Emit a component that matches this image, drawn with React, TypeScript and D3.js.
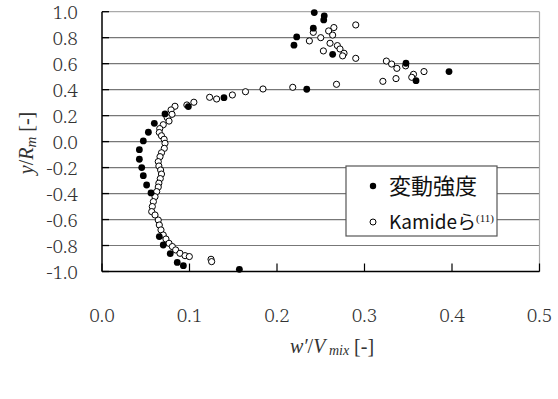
import React from "react";
import * as d3 from "d3";

// 変動強度 (filled)
const filledW = [0.2426, 0.254, 0.2534, 0.2415, 0.2225, 0.2194, 0.2636, 0.3474, 0.3966, 0.3589, 0.234, 0.1394, 0.0987, 0.072, 0.0598, 0.053, 0.0472, 0.0427, 0.0427, 0.0454, 0.0472, 0.051, 0.056, 0.0655, 0.070, 0.078, 0.086, 0.093, 0.157];
const filledY = [0.993, 0.968, 0.937, 0.873, 0.806, 0.742, 0.672, 0.603, 0.539, 0.469, 0.403, 0.338, 0.27, 0.213, 0.141, 0.072, 0.005, -0.062, -0.136, -0.2, -0.262, -0.334, -0.395, -0.731, -0.796, -0.862, -0.93, -0.955, -0.983];

// Kamide (open)
const openW = [0.290, 0.265, 0.259, 0.2415, 0.2636, 0.25, 0.237, 0.2606, 0.269, 0.272, 0.253, 0.2766, 0.275, 0.29, 0.325, 0.331, 0.337, 0.347, 0.368, 0.356, 0.354, 0.336, 0.321, 0.268, 0.218, 0.184, 0.164, 0.149, 0.131, 0.123,
  0.105, 0.097, 0.0834, 0.0789, 0.080, 0.0745, 0.0766, 0.070, 0.066, 0.0655, 0.068, 0.071, 0.072, 0.0712, 0.068, 0.0663, 0.0643, 0.065, 0.067, 0.068, 0.0666, 0.065, 0.0643, 0.0625, 0.0606, 0.0587, 0.0575, 0.0568, 0.0606, 0.0643, 0.0655, 0.0674, 0.070, 0.0731, 0.0766, 0.0804, 0.0842, 0.0891, 0.0949, 0.0998, 0.1246, 0.1253];
const openY = [0.898, 0.878, 0.852, 0.841, 0.82, 0.80, 0.775, 0.757, 0.739, 0.713, 0.698, 0.68, 0.66, 0.641, 0.62, 0.597, 0.564, 0.583, 0.539, 0.518, 0.495, 0.485, 0.464, 0.441, 0.418, 0.405, 0.384, 0.359, 0.328, 0.341,
  0.303, 0.282, 0.272, 0.244, 0.21, 0.185, 0.158, 0.13, 0.1, 0.07, 0.045, 0.018, -0.013, -0.052, -0.086, -0.116, -0.154, -0.188, -0.219, -0.25, -0.285, -0.32, -0.35, -0.385, -0.424, -0.462, -0.5, -0.539, -0.565, -0.604, -0.642, -0.68, -0.719, -0.75, -0.783, -0.808, -0.834, -0.86, -0.878, -0.885, -0.906, -0.924];

const xTicks = [0, 0.1, 0.2, 0.3, 0.4, 0.5];
const yTicks = [1.0, 0.8, 0.6, 0.4, 0.2, 0.0, -0.2, -0.4, -0.6, -0.8, -1.0];

const serifStyle = { fontFamily: '"Liberation Serif", "DejaVu Serif", serif' };
const tickStyle = { fontFamily: '"Noto Serif", "Liberation Serif", serif' };
const sansStyle = { fontFamily: '"Noto Sans CJK JP", "Noto Sans", sans-serif' };

export default function App() {
  const x = d3.scaleLinear().domain([0, 0.5]).range([102, 539.5]);
  const y = d3.scaleLinear().domain([-1, 1]).range([271.5, 11.7]);
  const filled = filledW.map((w, i) => [w, filledY[i]]);
  const open = openW.map((w, i) => [w, openY[i]]);
  return (
    <svg width={558} height={399} style={{ position: "absolute", left: 0, top: 0, background: "#fff" }}>
      {/* grid */}
      {yTicks.map((t) => (
        <line key={"g" + t} x1={x(0)} x2={x(0.5)} y1={y(t)} y2={y(t)} stroke={t === 1 ? "#aaa" : "#777"} strokeWidth={1.2} />
      ))}
      <line x1={x(0.5)} x2={x(0.5)} y1={y(1)} y2={y(-1)} stroke="#aaa" strokeWidth={1.2} />
      {/* axes */}
      <line x1={x(0)} x2={x(0)} y1={y(1)} y2={y(-1)} stroke="#000" strokeWidth={1.5} />
      <line x1={x(0)} x2={x(0.5)} y1={y(-1)} y2={y(-1)} stroke="#000" strokeWidth={1.5} />
      {yTicks.map((t) => (
        <line key={"yt" + t} x1={x(0)} x2={x(0) + 7} y1={y(t)} y2={y(t)} stroke="#000" strokeWidth={1.3} />
      ))}
      {xTicks.map((t) => (
        <line key={"xt" + t} x1={x(t)} x2={x(t)} y1={y(-1)} y2={y(-1) - 8} stroke="#000" strokeWidth={1.2} />
      ))}
      {/* tick labels */}
      {yTicks.map((t) => (
        <text key={"yl" + t} x={78} y={y(t) + 7} textAnchor="end" style={tickStyle} fontSize={19} fontWeight={300} fill="#333">
          {t.toFixed(1)}
        </text>
      ))}
      {xTicks.map((t) => (
        <text key={"xl" + t} x={x(t)} y={322} textAnchor="middle" style={tickStyle} fontSize={19} fontWeight={300} fill="#333">
          {t.toFixed(1)}
        </text>
      ))}
      {/* axis titles */}
      <text transform="translate(33,143) rotate(-90)" textAnchor="middle" style={serifStyle} fontSize={20} fill="#333">
        <tspan fontStyle="italic">y</tspan>/<tspan fontStyle="italic">R</tspan>
        <tspan fontStyle="italic" fontSize={15} dy={3}>m</tspan>
        <tspan dy={-3}> [-]</tspan>
      </text>
      <text x={332} y={353} textAnchor="middle" style={serifStyle} fontSize={20} fill="#333">
        <tspan fontStyle="italic">w′</tspan>/<tspan fontStyle="italic">V</tspan>
        <tspan fontStyle="italic" fontSize={14} dy={2}> mix</tspan>
        <tspan dy={-2}> [-]</tspan>
      </text>
      {/* points */}
      {open.map(([w, v], i) => (
        <circle key={"o" + i} cx={x(w)} cy={y(v)} r={3.1} fill="#fff" stroke="#000" strokeWidth={1} />
      ))}
      {filled.map(([w, v], i) => (
        <circle key={"f" + i} cx={x(w)} cy={y(v)} r={3.4} fill="#000" />
      ))}
      {/* legend */}
      <rect x={346} y={166} width={151} height={70} fill="#fff" stroke="#555" strokeWidth={1.2} />
      <circle cx={373} cy={186} r={3.2} fill="#000" />
      <text x={389} y={194} style={sansStyle} fontSize={22} fill="#111">変動強度</text>
      <circle cx={373} cy={222} r={3} fill="#fff" stroke="#000" strokeWidth={1} />
      <text x={389} y={229} style={sansStyle} fontSize={19} fill="#111">
        Kamideら
        <tspan style={serifStyle} fontSize={11} dy={-7}>(11)</tspan>
      </text>
    </svg>
  );
}
